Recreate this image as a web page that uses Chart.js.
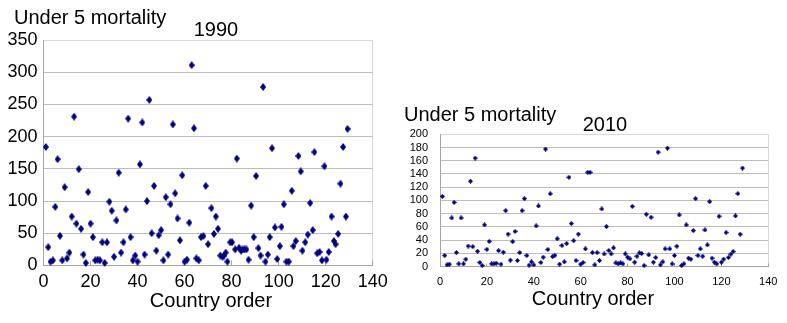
<!DOCTYPE html>
<html><head><meta charset="utf-8">
<script src="https://cdn.jsdelivr.net/npm/chart.js@4"></script>
<style>
html,body{margin:0;padding:0;background:#fff;}
body{width:787px;height:323px;overflow:hidden;position:relative;font-family:"Liberation Sans",Arial,sans-serif;}
canvas{position:absolute;top:0;}
.t{position:absolute;white-space:nowrap;font-size:20px;line-height:20px;color:#000;}
.c{transform:translateX(-50%);}
</style></head><body>
<canvas id="c1" width="400" height="323" style="left:0"></canvas>
<canvas id="c2" width="407" height="323" style="left:380px"></canvas>
<div class="t" style="left:14px;top:7px">Under 5 mortality</div>
<div class="t c" style="left:216px;top:19px">1990</div>
<div class="t c" style="left:211px;top:290px">Country order</div>
<div class="t" style="left:404px;top:104px">Under 5 mortality</div>
<div class="t c" style="left:605px;top:114px">2010</div>
<div class="t c" style="left:593px;top:288px">Country order</div>
<script>
// ---- data ----
const countryOrder1990 = [1,2,3,4,5,6,7,8,9,10,11,12,13,14,15,16,17,18,19,20,21,22,23,24,25,26,27,28,29,30,
  31,32,33,34,35,36,37,38,39,40,41,42,43,44,45,46,47,48,49,50,51,52,53,54,55,56,57,58,59,60,
  61,62,63,64,65,66,67,68,69,70,
  71.4,72.5,73.3,74.2,75.2,76.1,76.8,77.5,78.2,79.4,80.2,81.5,82.2,83.2,84,84.7,85.5,86.3,87.2,88.3,
  89.4,90.4,91.4,92.3,93.4,94.4,95.4,96.2,97.2,98.4,99.4,100.5,101.2,102.2,103.3,104.3,105.6,106.3,107.3,108.4,
  109.4,110.1,111.3,112.4,113.4,114.5,115.2,116.4,117.4,118.4,119.5,120.3,121.3,122.5,123.5,124.2,125.3,126.3,127.4,128.6,129.3];
const mortality1990 = [184,28.5,6,8,91,165,46,8,121.5,11,20,76,231,65,149.5,57,17,4,114,65,
  44,8,9,8,36,4,36,99,85,13.5,70,144,20,36,87,228,44,8,15.5,6,
  157,222,17,100,257,50,123.5,23,47,55,8,106,17,95,219,112,73,39,140,6,
  9,66.5,311,213,11,8,44,45.7,123.5,33,
  89,49,76,57,15.5,13.5,15.5,20,6,36,36,25,166,27.5,23,25,25,25,9,93,
  44,139,27,15.5,277,6,17,44,182,59,10,30,60,95,6,6,116,30,38,170,
  146,23,36,48,97,55,176,19,21,8,154,9,21,76,38,33,49,127,184,76,212];
const countryOrder2010 = [1,2,3,4,5,6,7,8,9,10,11,12,13,14,15,16,17,18,19,20,21,22,23,24,25,26,27,28,29,30,
  31,32,33,34,35,36,37,38,39,40,41,42,43,44,45,46,47,48,49,50,51,52,53,54,55,56,57,58,59,60,
  61,62,63,64,65,66,67,68,69,70,71,72,73,74,75,76,77,78,79,80,81,82,83,84,85,86,87,88,89,90,
  91,92,93,94,95,96,97,98,99,100,101,102,103,104,105,106,107,108,109,110,111,112,113,114,115,116,117,118,119,120,
  121,122,123,124,125,126,127,128,129];
const mortality2010 = [106,16.6,2.5,3.5,73.5,97,21,4,73.5,4,
  11,31,129,30,164,23,6,1.5,63,26,
  38,4,4,5,24,3.5,21.6,84.5,49,9.6,
  37.7,53,9,21,84.5,102.6,16.6,2,7,2.5,
  61.4,91.6,6,14,177.6,25.7,110,15,17,42,
  3.5,31.7,7,34.7,135,65,39,9,49,3.5,
  6,26.7,142.4,142.4,21,2.5,21,9,87,19,
  60.4,24.2,19.1,28.2,5.5,4,5.5,4,19.1,14.1,
  11.6,91,6.5,15.6,20.6,19.6,1.5,79,17.6,74.5,
  6.5,13.6,173,2.5,7,26.7,179,26.7,4,16.6,
  30.7,78,1.5,4,62.9,12.6,11.1,54.3,102.6,16.6,
  26.7,15.6,55.3,32.7,98.1,12.6,6.5,4,76,6.5,
  11.1,51.3,13.6,18.6,22.6,76.5,110.2,48.8,149];
const xTickLabels = [0,20,40,60,80,100,120,140];
const yTickLabels1990 = [0,50,100,150,200,250,300,350];
const yTickLabels2010 = [0,20,40,60,80,100,120,140,160,180,200];

// ---- styling helpers ----
const NAVY = '#000080';
const FONT = '"Liberation Sans", Arial, sans-serif';
function diamond(w, h) {
  const c = document.createElement('canvas');
  c.width = w; c.height = h;
  const g = c.getContext('2d');
  g.fillStyle = NAVY;
  g.beginPath();
  g.moveTo(w / 2, 0); g.lineTo(w, h / 2); g.lineTo(w / 2, h); g.lineTo(0, h / 2);
  g.closePath(); g.fill();
  return c;
}

function makeChart(id, xs, ys, yTicks, cfg) {
  const yMax = yTicks[yTicks.length - 1];
  const xMax = xTickLabels[xTickLabels.length - 1];
  return new Chart(document.getElementById(id), {
    type: 'scatter',
    data: {
      datasets: [{
        data: xs.map((x, i) => ({ x: x, y: ys[i] })),
        pointStyle: diamond(cfg.mw, cfg.mh),
        pointRadius: 3,
        pointHoverRadius: 3,
        backgroundColor: NAVY,
        borderColor: NAVY,
        showLine: false,
        clip: 8
      }]
    },
    options: {
      responsive: false,
      animation: false,
      devicePixelRatio: 1,
      layout: { padding: { left: 0, top: cfg.top, right: cfg.right, bottom: 0 } },
      plugins: { legend: { display: false }, tooltip: { enabled: false }, title: { display: false } },
      scales: {
        x: {
          type: 'linear', min: 0, max: xMax,
          afterBuildTicks: s => { s.ticks = xTickLabels.map(v => ({ value: v })); },
          afterFit: s => { s.height = cfg.xh; s.paddingLeft = 0; s.paddingRight = 0; },
          ticks: { font: { family: FONT, size: cfg.fs }, color: '#000', padding: cfg.xpad, maxRotation: 0, autoSkip: false },
          grid: {
            color: c => (c.tick && c.tick.value === xMax) ? '#d9d9d9' : 'rgba(0,0,0,0)',
            tickColor: '#a6a6a6',
            tickLength: -cfg.tl,
            drawTicks: true
          },
          border: { color: '#a6a6a6', width: 1 }
        },
        y: {
          type: 'linear', min: 0, max: yMax,
          afterBuildTicks: s => { s.ticks = yTicks.map(v => ({ value: v })); },
          afterFit: s => { s.width = cfg.yw; s.paddingTop = 0; s.paddingBottom = 0; },
          ticks: { font: { family: FONT, size: cfg.fs }, color: '#000', padding: cfg.ypad, autoSkip: false },
          grid: {
            color: c => (c.tick && c.tick.value === yMax) ? '#d9d9d9' : '#bdbdbd',
            drawTicks: false
          },
          border: { color: '#a6a6a6', width: 1 }
        }
      }
    }
  });
}

makeChart('c1', countryOrder1990, mortality1990, yTickLabels1990,
  { top: 40, right: 27.3, xh: 57.5, yw: 43.5, fs: 18, xpad: 11, ypad: 6, tl: 5, mw: 6, mh: 8 });
makeChart('c2', countryOrder2010, mortality2010, yTickLabels2010,
  { top: 134.3, right: 18.7, xh: 56.5, yw: 60, fs: 11, xpad: 12, ypad: 12, tl: 3, mw: 5, mh: 5 });
</script>
</body></html>
